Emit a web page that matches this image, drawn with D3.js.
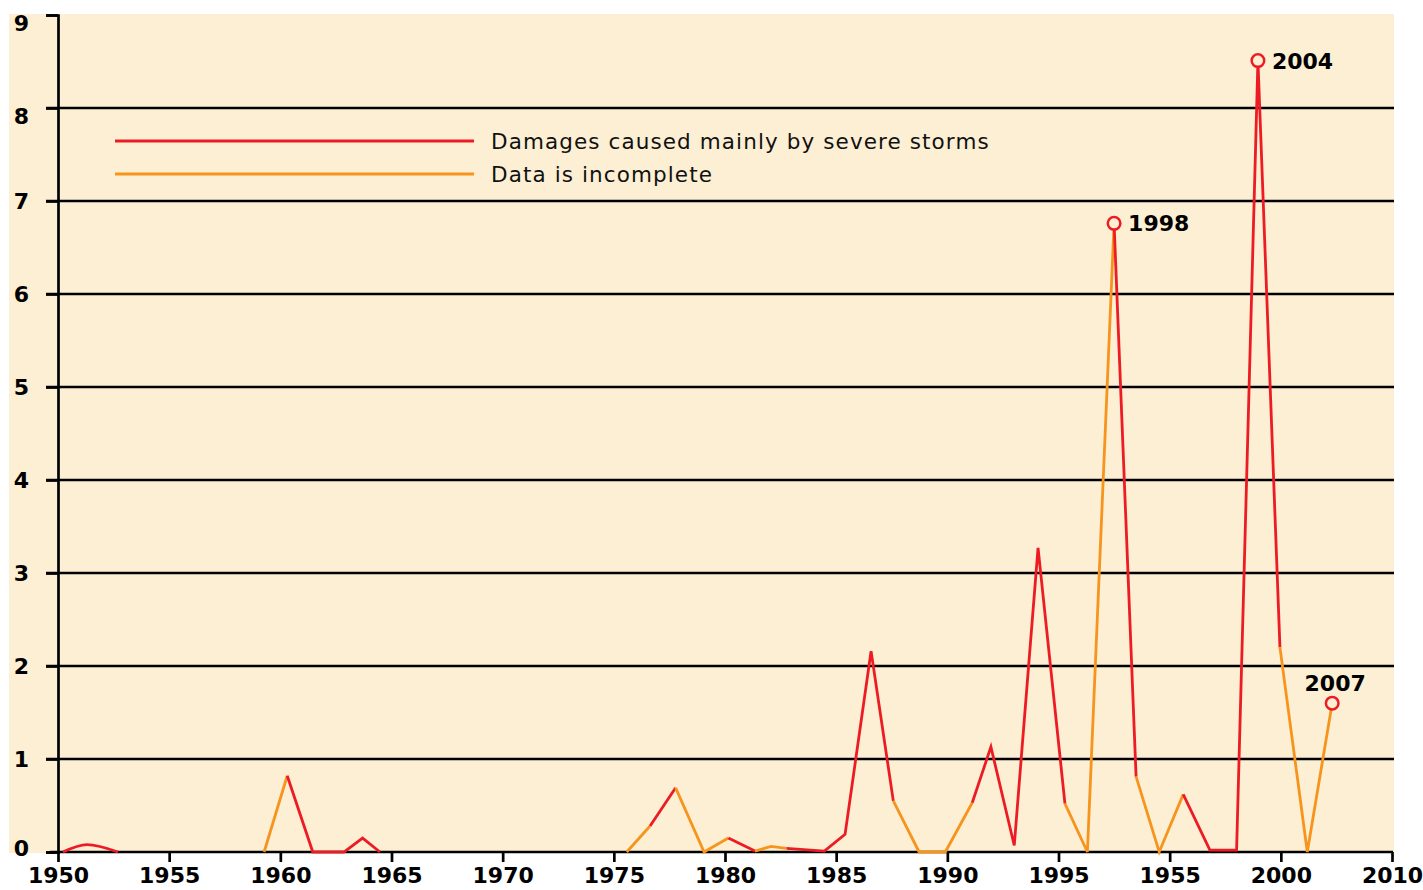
<!DOCTYPE html>
<html lang="en">
<head>
<meta charset="UTF-8" />
<title>Storm damages</title>
<style>
  body { margin: 0; background: #fff; }
  svg { display: block; }
  .num { font-family: "DejaVu Sans", sans-serif; font-weight: bold; font-size: 22px; fill: #000; }
  .legend-label { font-family: "DejaVu Sans", sans-serif; font-size: 21.5px; letter-spacing: 1.1px; fill: #111; }
</style>
</head>
<body>
<svg id="chart"></svg>
<script src="https://d3js.org/d3.v7.min.js"></script>
<script>
  const width = 1423, height = 890;

  // small arc near 1950
  const arcYears = [1950.22, 1951.3, 1952.7];
  const arcValues = [0, 0.08, 0];

  // main series (year, value)
  const years = [1959.27, 1960.31, 1961.46, 1962.86, 1963.70, 1964.48,
    1975.58, 1976.63, 1977.78, 1979.06, 1980.15, 1981.35, 1982.07, 1982.77,
    1984.47, 1985.40, 1986.57, 1987.57, 1988.73, 1989.91, 1991.12, 1991.96,
    1993.01, 1994.08, 1995.29, 1996.30, 1997.50, 1998.49, 1999.53, 2000.61,
    2001.81, 2003.01, 2003.97, 2004.96, 2006.19, 2007.31];
  const damages = [0, 0.82, 0, 0, 0.15, 0,
    0, 0.28, 0.69, 0, 0.15, 0.01, 0.06, 0.04,
    0.01, 0.19, 2.16, 0.55, 0, 0, 0.53, 1.13,
    0.07, 3.27, 0.52, 0, 6.76, 0.81, 0, 0.62,
    0.02, 0.02, 8.51, 2.2, 0, 1.6];
  // kind of segment from point i to point i+1: S = storms, I = incomplete, - = no line
  const segmentKind = ["I", "S", "S", "S", "S", "-",
    "I", "S", "I", "I", "S", "I", "I", "S",
    "S", "S", "S", "I", "I", "I", "S", "S",
    "S", "S", "I", "I", "S", "I", "I", "S",
    "S", "S", "S", "I", "I"];

  const markedPoints = [26, 32, 35];
  const markedLabels = ["1998", "2004", "2007"];
  const markedPlace = ["right", "right", "above"];

  const tickYears = d3.range(1950, 2011, 5);
  const xTickLabels = ["1950", "1955", "1960", "1965", "1970", "1975", "1980",
    "1985", "1990", "1995", "1955", "2000", "2010"];
  const yTicks = d3.range(0, 10);

  const legendNames = ["Damages caused mainly by severe storms", "Data is incomplete"];
  const colors = { S: "#ed1c24", I: "#f7941d" };
  const bg = "#fdefd3";

  const svg = d3.select("#chart").attr("width", width).attr("height", height);

  const x = d3.scaleLinear().domain([1950, 2010]).range([58, 1392]);
  const y = d3.scaleLinear().domain([0, 9]).range([852, 15]);

  svg.append("rect")
    .attr("x", 9).attr("y", 14)
    .attr("width", 1385).attr("height", 839)
    .attr("fill", bg);

  // gridlines
  svg.append("g").selectAll("line")
    .data(yTicks.filter(d => d > 0 && d < 9))
    .join("line")
    .attr("x1", 46).attr("x2", 1394)
    .attr("y1", d => y(d)).attr("y2", d => y(d))
    .attr("stroke", "#000").attr("stroke-width", 2.7);

  // y axis
  const yAxis = svg.append("g")
    .attr("transform", `translate(${x(1950)},0)`)
    .call(d3.axisLeft(y).tickValues(yTicks).tickSize(12).tickFormat(""));
  yAxis.select(".domain").attr("stroke", "#000").attr("stroke-width", 2.7);
  yAxis.selectAll(".tick line").attr("stroke", "#000").attr("stroke-width", 2.7);

  svg.append("g").selectAll("text")
    .data(yTicks)
    .join("text")
    .attr("class", "num")
    .attr("text-anchor", "end")
    .attr("x", 29)
    .attr("y", d => y(d) + 8 + (d >= 8 ? 8 : d === 0 ? -4 : 0))
    .text(d => d);

  // x axis
  const xAxis = svg.append("g")
    .attr("transform", `translate(0,${y(0)})`)
    .call(d3.axisBottom(x).tickValues(tickYears).tickSize(10).tickSizeOuter(0)
      .tickFormat((d, i) => xTickLabels[i]));
  xAxis.select(".domain").remove();
  xAxis.selectAll(".tick line").attr("stroke", "#000").attr("stroke-width", 2.7);
  xAxis.selectAll(".tick text")
    .attr("class", "num")
    .attr("font-size", null).attr("font-family", null)
    .attr("dy", null).attr("y", 31);
  svg.append("line")
    .attr("x1", 50).attr("x2", 1393)
    .attr("y1", y(0)).attr("y2", y(0))
    .attr("stroke", "#000").attr("stroke-width", 2.7);

  // legend
  const legend = svg.append("g");
  legendNames.forEach((name, i) => {
    const ly = 141 + i * 33;
    legend.append("line")
      .attr("x1", 115).attr("x2", 474).attr("y1", ly).attr("y2", ly)
      .attr("stroke", colors[i === 0 ? "S" : "I"]).attr("stroke-width", 2.8);
    legend.append("text")
      .attr("class", "legend-label")
      .attr("x", 491).attr("y", ly + 8)
      .text(name);
  });

  // data lines: group consecutive segments of the same kind
  const line = d3.line().x(d => x(d[0])).y(d => y(d[1]));
  const runs = [];
  segmentKind.forEach((k, i) => {
    if (k === "-") return;
    const last = runs[runs.length - 1];
    if (last && last.kind === k && last.end === i) {
      last.pts.push([years[i + 1], damages[i + 1]]);
      last.end = i + 1;
    } else {
      runs.push({ kind: k, end: i + 1, pts: [[years[i], damages[i]], [years[i + 1], damages[i + 1]]] });
    }
  });

  svg.append("path")
    .datum(arcYears.map((d, i) => [d, arcValues[i]]))
    .attr("d", d3.line().x(d => x(d[0])).y(d => y(d[1])).curve(d3.curveMonotoneX))
    .attr("fill", "none").attr("stroke", colors.S).attr("stroke-width", 2.8);

  svg.append("g").selectAll("path")
    .data(runs)
    .join("path")
    .attr("d", d => line(d.pts))
    .attr("fill", "none")
    .attr("stroke", d => colors[d.kind])
    .attr("stroke-width", 2.8)
    .attr("stroke-linejoin", "miter")
    .attr("stroke-miterlimit", 4);

  // marked peaks
  const marks = svg.append("g");
  markedPoints.forEach((idx, i) => {
    const cx = x(years[idx]), cy = y(damages[idx]);
    marks.append("circle")
      .attr("cx", cx).attr("cy", cy).attr("r", 6.3)
      .attr("fill", bg).attr("stroke", colors.S).attr("stroke-width", 2.5);
    const t = marks.append("text").attr("class", "num").text(markedLabels[i]);
    if (markedPlace[i] === "right") {
      t.attr("x", cx + 14).attr("y", cy + 8);
    } else {
      t.attr("x", cx + 3).attr("y", cy - 12).attr("text-anchor", "middle");
    }
  });
</script>
</body>
</html>
